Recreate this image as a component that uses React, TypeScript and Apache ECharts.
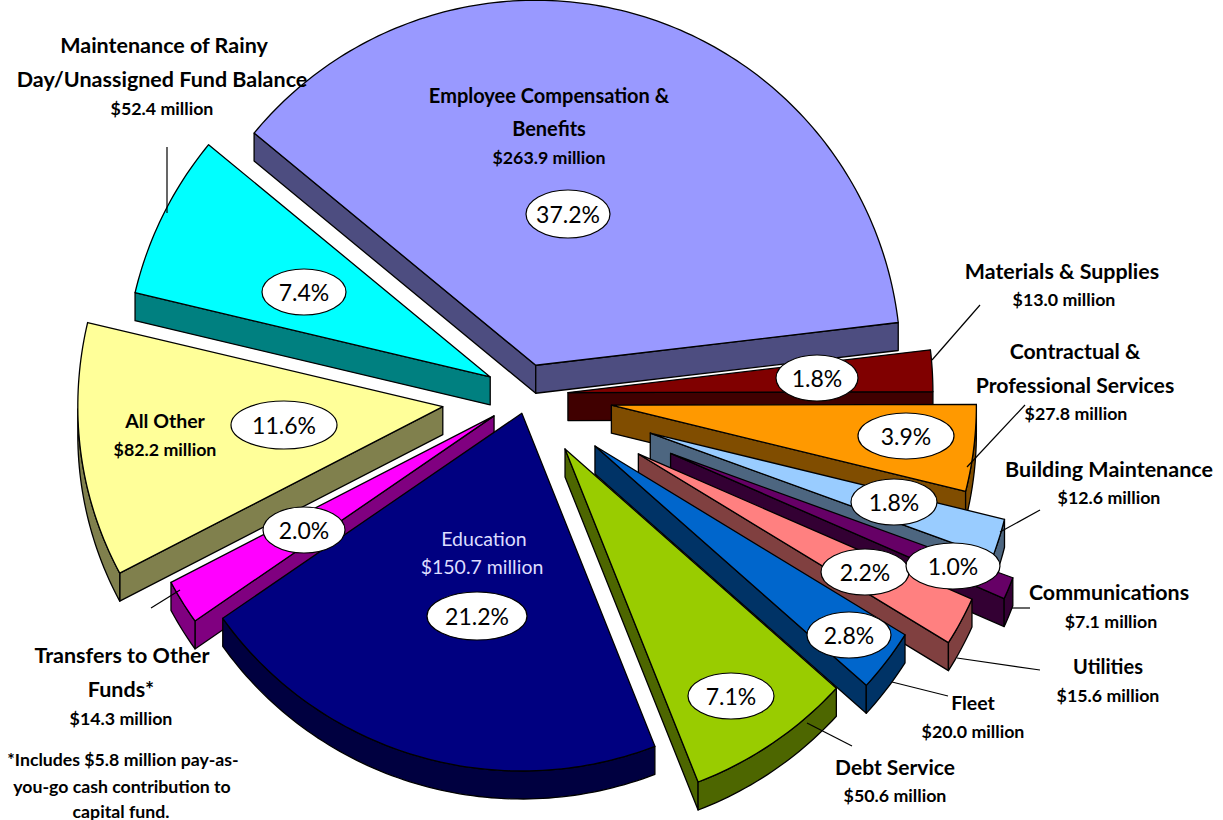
import React, { useEffect, useRef } from "react";
import * as echarts from "echarts";

// ---- data ----
const categories = [
  "Employee Compensation & Benefits",
  "Materials & Supplies",
  "Contractual & Professional Services",
  "Building Maintenance",
  "Communications",
  "Utilities",
  "Fleet",
  "Debt Service",
  "Education",
  "Transfers to Other Funds*",
  "All Other",
  "Maintenance of Rainy Day/Unassigned Fund Balance",
];
const values = [263.9, 13.0, 27.8, 12.6, 7.1, 15.6, 20.0, 50.6, 150.7, 14.3, 82.2, 52.4];
const percentLabels = ["37.2%", "1.8%", "3.9%", "1.8%", "1.0%", "2.2%", "2.8%", "7.1%", "21.2%", "2.0%", "11.6%", "7.4%"];
const amountLabels = values.map((v) => `$${v.toFixed(1)} million`);

// ---- styling and layout, separate from the data ----
const topColors = ["#9999FF", "#800000", "#FF9900", "#99CCFF", "#660066", "#FF8080", "#0066CC", "#99CC00", "#000080", "#FF00FF", "#FFFF99", "#00FFFF"];
const sideColors = ["#4D4D80", "#400000", "#804D00", "#4D6680", "#330033", "#804040", "#003366", "#4D6600", "#000040", "#800080", "#80804D", "#008080"];
const explode = [31, 41, 85, 129, 155, 126, 85, 66, 19, 39, 85, 41];
const drawOrder = [0, 11, 1, 2, 3, 10, 4, 5, 9, 6, 7, 8];
const CX = 527;
const CY = 395;
const RADIUS = 365;
const FRONT_SQUASH = 0.98;
const DEPTH = 28;
const START_DEG = -50.5;
const total = values.reduce((a, b) => a + b, 0);

const ellipses = [
  [568, 214, 42, 24], [817, 378, 41, 23], [906, 436, 48, 23], [894, 502, 43, 23],
  [953, 566, 47, 23], [865, 572, 44, 23], [849, 635, 42, 23], [731, 696, 43, 23],
  [477, 616, 50, 24], [304, 530, 41, 23], [284, 425, 53, 24], [304, 292, 42, 23],
];
const ellipseOrder = [0, 11, 10, 9, 8, 1, 2, 3, 5, 4, 6, 7];

type Line = [string, number, number, number];
const nameLines: Line[] = [
  ["Employee Compensation &", 549, 95, 20], ["Benefits", 549, 128, 20],
  ["Materials & Supplies", 1062, 271, 21.4],
  ["Contractual &", 1075, 351, 21.2], ["Professional Services", 1075, 385, 21.2],
  ["Building Maintenance", 1109, 469, 21.5],
  ["Communications", 1109, 592, 21.4],
  ["Utilities", 1108, 666, 20],
  ["Fleet", 973, 702, 19.5],
  ["Debt Service", 895, 766, 21],
  ["All Other", 165, 420, 19.5],
  ["Transfers to Other", 122, 655, 21.5], ["Funds*", 121, 689, 21.5],
  ["Maintenance of Rainy", 164, 45, 21.5], ["Day/Unassigned Fund Balance", 162, 79, 21.5],
];
const amountPos: [number, number, number][] = [
  [0, 549, 157], [1, 1064, 299], [2, 1076, 413], [3, 1109, 497], [4, 1111, 621],
  [5, 1108, 695], [6, 973, 731], [7, 895, 795], [9, 121, 718], [10, 165, 449], [11, 162, 108],
];
const noteLines: Line[] = [
  ["*Includes $5.8 million pay-as-", 123, 759, 17.7],
  ["you-go cash contribution to", 122, 786, 17.7],
  ["capital fund.", 121, 811, 17.7],
];
const leaderLines = [
  [932, 360, 980, 305], [967, 467, 1025, 405], [1000, 532, 1040, 510], [1012, 608, 1030, 608],
  [957, 658, 1040, 670], [892, 682, 948, 696], [807, 723, 852, 746], [151, 608, 180, 590], [167, 147, 167, 213],
];

const FONT = "Lato, Carlito, sans-serif";

// the source's 3D perspective turns the front-left slices a little further clockwise
function perspectiveNudge(deg: number) {
  if (deg <= 132 || deg >= 310) return 0;
  if (deg < 158) return (deg - 132) / 26;
  if (deg <= 241) return 1;
  return (310 - deg) / 69;
}

function pointOn(ax: number, ay: number, deg: number) {
  const t = ((deg + perspectiveNudge(deg)) * Math.PI) / 180;
  const dy = -RADIUS * Math.cos(t);
  return [ax + RADIUS * Math.sin(t), ay + (dy > 0 ? dy * FRONT_SQUASH : dy)];
}

function renderSlice(_params: any, api: any) {
  const idx = api.value(1) as number;
  const before = values.slice(0, idx).reduce((a, b) => a + b, 0);
  const a0 = START_DEG + (before / total) * 360;
  const a1 = a0 + ((api.value(0) as number) / total) * 360;
  const mid = ((a0 + a1) / 2) * (Math.PI / 180);
  const ax = CX + explode[idx] * Math.sin(mid);
  const ay = CY - explode[idx] * Math.cos(mid);
  const steps = Math.max(6, Math.round(a1 - a0));
  const arc: number[][] = [];
  for (let s = 0; s <= steps; s++) arc.push(pointOn(ax, ay, a0 + ((a1 - a0) * s) / steps));

  const lineStyle = { stroke: "#000", lineWidth: 1.3, lineJoin: "round" as const };
  const sideStyle = { ...lineStyle, fill: sideColors[idx] };
  const down = (p: number[]) => [p[0], p[1] + DEPTH];
  const children: any[] = [];
  const quad = (p: number[], q: number[]) =>
    children.push({ type: "polygon", shape: { points: [p, q, down(q), down(p)] }, style: sideStyle, silent: true });

  // walls that face the viewer: travelling leftwards along the clockwise outline
  const first = arc[0];
  const last = arc[arc.length - 1];
  if (first[0] < ax) quad([ax, ay], first);
  if (last[0] > ax) quad(last, [ax, ay]);
  let run: number[][] = [];
  const flush = () => {
    if (run.length > 1) {
      children.push({
        type: "polygon",
        shape: { points: [...run, ...run.slice().reverse().map(down)] },
        style: sideStyle,
        silent: true,
      });
    }
    run = [];
  };
  for (let s = 0; s < arc.length - 1; s++) {
    if (arc[s + 1][0] < arc[s][0]) {
      if (!run.length) run.push(arc[s]);
      run.push(arc[s + 1]);
    } else flush();
  }
  flush();

  children.push({
    type: "polygon",
    shape: { points: [[ax, ay], ...arc] },
    style: { ...lineStyle, fill: topColors[idx] },
  });
  return { type: "group", children };
}

function textEl(text: string, x: number, y: number, size: number, weight: string, fill = "#000") {
  return {
    type: "text",
    x,
    y,
    z: 20,
    silent: true,
    style: { text, fill, font: `${weight} ${size}px ${FONT}`, textAlign: "center", textVerticalAlign: "middle" },
  };
}

export default function App() {
  const ref = useRef<HTMLDivElement>(null);
  useEffect(() => {
    const chart = echarts.init(ref.current!, undefined, { renderer: "svg" });
    const graphics: any[] = [];
    leaderLines.forEach(([x1, y1, x2, y2]) =>
      graphics.push({ type: "line", z: 10, silent: true, shape: { x1, y1, x2, y2 }, style: { stroke: "#000", lineWidth: 1.2 } })
    );
    ellipseOrder.forEach((i) => {
      const [cx, cy, rx, ry] = ellipses[i];
      graphics.push({ type: "ellipse", z: 15, silent: true, shape: { cx, cy, rx, ry }, style: { fill: "#fff", stroke: "#000", lineWidth: 1.2 } });
      graphics.push({ ...textEl(percentLabels[i], cx, cy, 23, "normal"), z: 16 });
    });
    nameLines.forEach(([t, x, y, s]) => graphics.push(textEl(t, x, y, s, "bold")));
    amountPos.forEach(([i, x, y]) => graphics.push(textEl(amountLabels[i], x, y, 17.8, "bold")));
    noteLines.forEach(([t, x, y, s]) => graphics.push(textEl(t, x, y, s, "bold")));
    graphics.push(textEl("Education", 484, 538, 19.5, "normal", "#DDDDFF"));
    graphics.push(textEl(amountLabels[8], 482, 566, 19.5, "normal", "#DDDDFF"));

    chart.setOption({
      animation: false,
      backgroundColor: "#fff",
      series: [
        {
          type: "custom",
          coordinateSystem: "none",
          renderItem: renderSlice,
          silent: true,
          data: drawOrder.map((i) => ({ name: categories[i], value: [values[i], i] })),
        },
      ],
      graphic: { elements: graphics },
    });
    return () => chart.dispose();
  }, []);
  return <div ref={ref} style={{ position: "fixed", left: 0, top: 0, width: 1223, height: 820 }} />;
}
